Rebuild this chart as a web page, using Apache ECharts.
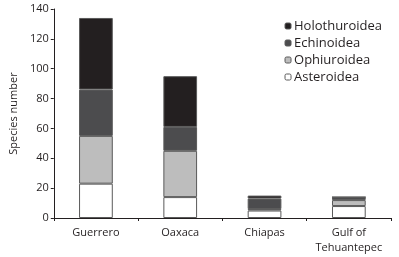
<!DOCTYPE html>
<html><head><meta charset="utf-8">
<script src="https://cdn.jsdelivr.net/npm/echarts@6/dist/echarts.min.js"></script>
<style>html,body{margin:0;padding:0;background:#fff}#c{width:399px;height:257px}</style>
</head><body><div id="c"></div>
<script>
const categories = ['Guerrero', 'Oaxaca', 'Chiapas', 'Gulf of\nTehuantepec'];
const asteroidea = [23, 14, 5, 8];
const ophiuroidea = [32, 31, 1, 4];
const echinoidea = [31, 16, 7, 2];
const holothuroidea = [48, 34, 2, 0];
const yTicks = [0, 20, 40, 60, 80, 100, 120, 140];

const font = 'Open Sans';
const txt = '#231f20';
function s(name, data, color) {
  return {
    name, type: 'bar', stack: 'a', data, barWidth: '40%',
    itemStyle: { color, borderColor: '#5a5a5a', borderWidth: 1 }
  };
}
const chart = echarts.init(document.getElementById('c'), null, { renderer: 'canvas' });
chart.setOption({
  animation: false,
  textStyle: { fontFamily: font },
  grid: { left: 41, right: 8, top: 9, bottom: 39, containLabel: false },
  legend: {
    orient: 'vertical', right: 12, top: 14, itemWidth: 6, itemHeight: 6, itemGap: 3,
    data: ['Holothuroidea', 'Echinoidea', 'Ophiuroidea', 'Asteroidea'],
    textStyle: { fontFamily: font, fontSize: 13, lineHeight: 14, color: txt, padding: [0, 0, 0, -2] },
    itemStyle: { borderColor: '#5a5a5a', borderWidth: 1 }
  },
  xAxis: {
    type: 'category', data: categories, boundaryGap: true,
    axisLine: { lineStyle: { color: txt, width: 1 } },
    axisTick: { show: true, length: 3, interval: 0, lineStyle: { color: txt } },
    axisLabel: { fontFamily: font, fontSize: 11, color: txt, margin: 7, lineHeight: 15, interval: 0 }
  },
  yAxis: {
    type: 'value', min: yTicks[0], max: yTicks[yTicks.length - 1], interval: 20,
    name: 'Species number', nameLocation: 'middle', nameGap: 29, nameRotate: 90,
    nameTextStyle: { fontFamily: font, fontSize: 11, color: txt },
    axisLine: { show: true, lineStyle: { color: txt, width: 1 } },
    axisTick: { show: true, length: 3, lineStyle: { color: txt } },
    splitLine: { show: false },
    axisLabel: { fontFamily: font, fontSize: 11, color: txt, margin: 5 }
  },
  series: [
    s('Asteroidea', asteroidea, '#ffffff'),
    s('Ophiuroidea', ophiuroidea, '#bdbdbd'),
    s('Echinoidea', echinoidea, '#4c4c4e'),
    s('Holothuroidea', holothuroidea, '#231f20')
  ]
});
</script></body></html>
